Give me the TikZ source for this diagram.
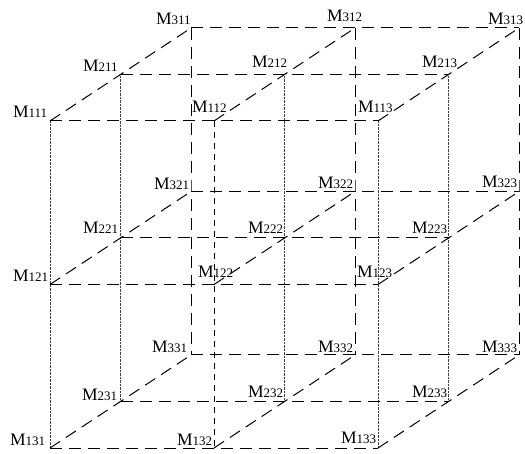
\documentclass[tikz,border=0pt]{standalone}
\usepackage{fontspec}
\setmainfont{Liberation Serif}
\newcommand{\mlabtext}[1]{{\fontsize{17.5}{17.5}\selectfont M}{\fontsize{13}{13}\selectfont #1}}
\tikzset{
  longdash/.style={line width=1pt, dash pattern=on 12pt off 7pt},
  shortdash/.style={line width=0.9pt, dash pattern=on 6pt off 5pt},
  dotline/.style={line width=0.8pt, gray!50!black, dash pattern=on 0.8pt off 0.6pt},
  mlab/.style={anchor=base west, inner sep=0pt, outer sep=0pt}
}
\begin{document}
\begin{tikzpicture}[x=1pt,y=1pt]
\useasboundingbox (0,0) rectangle (525,-454);
\foreach \i in {1,2,3}{
  \foreach \j in {1,2,3}{
    \foreach \k in {1,2,3}{
      \coordinate (M\i\j\k) at ({50+164*(\k-1)+70.5*(\i-1)}, {-(121+163.5*(\j-1)-46.5*(\i-1))});
    }
  }
}
% vertical lines
\foreach \i/\k in {1/1,1/3,2/1,2/2,2/3}{
  \draw[dotline] (M\i1\k) -- (M\i2\k) -- (M\i3\k);
}
\draw[shortdash] (M112) -- (M122) -- (M132);
\foreach \k in {1,2,3}{
  \draw[longdash] (M31\k) -- (M32\k) -- (M33\k);
}
% horizontal lines
\foreach \i in {1,2,3}{
  \foreach \j in {1,2,3}{
    \draw[longdash] (M\i\j1) -- (M\i\j2) -- (M\i\j3);
  }
}
% depth lines
\foreach \j in {1,2,3}{
  \foreach \k in {1,2,3}{
    \draw[longdash] (M1\j\k) -- (M2\j\k) -- (M3\j\k);
  }
}
% labels
\node[mlab] (L311) at (156,-25) {\mlabtext{311}};
\node[mlab] (L312) at (327,-22) {\mlabtext{312}};
\node[mlab] (L313) at (488,-25) {\mlabtext{313}};
\node[mlab] (L211) at (83,-72) {\mlabtext{211}};
\node[mlab] (L212) at (252,-68) {\mlabtext{212}};
\node[mlab] (L213) at (422,-68) {\mlabtext{213}};
\node[mlab] (L111) at (13,-117.5) {\mlabtext{111}};
\node[mlab] (L112) at (192,-113) {\mlabtext{112}};
\node[mlab] (L113) at (358,-113) {\mlabtext{113}};
\node[mlab] (L321) at (154,-190) {\mlabtext{321}};
\node[mlab] (L322) at (318,-189) {\mlabtext{322}};
\node[mlab] (L323) at (482,-188) {\mlabtext{323}};
\node[mlab] (L221) at (83,-234) {\mlabtext{221}};
\node[mlab] (L222) at (248,-234) {\mlabtext{222}};
\node[mlab] (L223) at (412,-234) {\mlabtext{223}};
\node[mlab] (L121) at (13,-282) {\mlabtext{121}};
\node[mlab] (L122) at (198,-278) {\mlabtext{122}};
\node[mlab] (L123) at (357,-278) {\mlabtext{123}};
\node[mlab] (L331) at (152,-353) {\mlabtext{331}};
\node[mlab] (L332) at (318,-353) {\mlabtext{332}};
\node[mlab] (L333) at (482,-353) {\mlabtext{333}};
\node[mlab] (L231) at (82,-400) {\mlabtext{231}};
\node[mlab] (L232) at (248,-397) {\mlabtext{232}};
\node[mlab] (L233) at (412,-397) {\mlabtext{233}};
\node[mlab] (L131) at (10,-445) {\mlabtext{131}};
\node[mlab] (L132) at (177,-445) {\mlabtext{132}};
\node[mlab] (L133) at (341,-443) {\mlabtext{133}};
\end{tikzpicture}
\end{document}
